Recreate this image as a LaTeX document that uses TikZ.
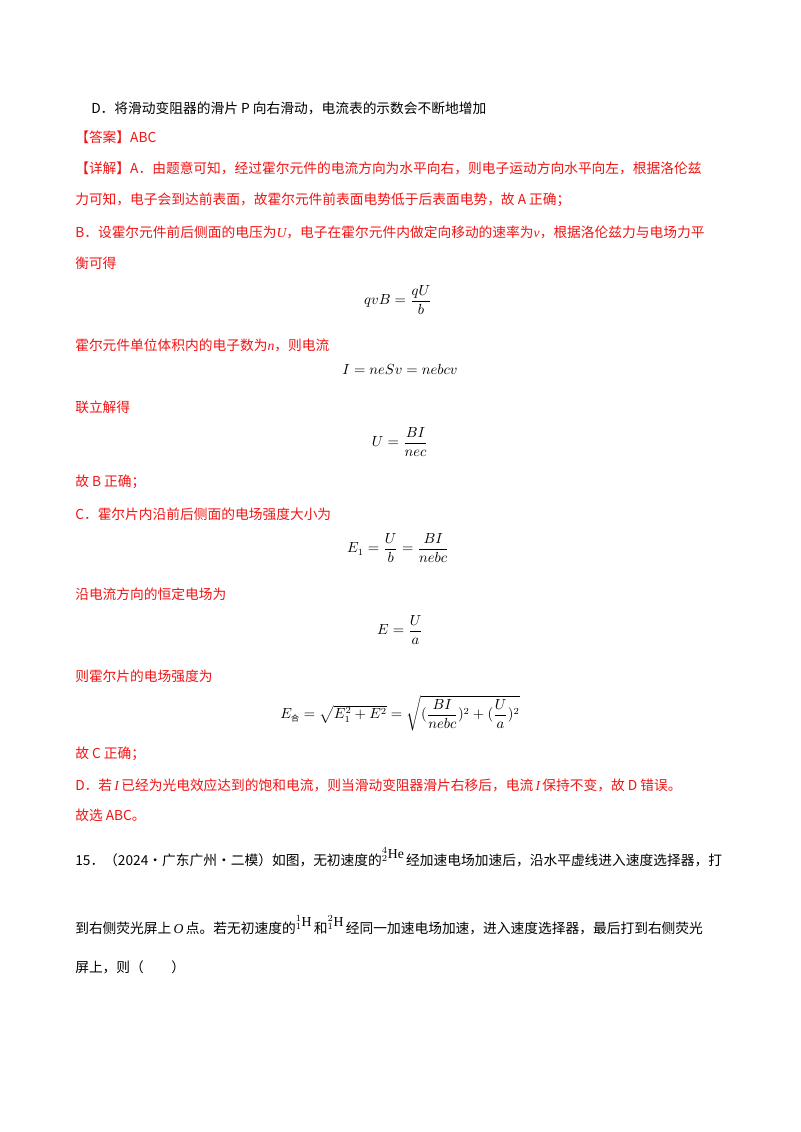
\documentclass[tikz,border=0pt]{standalone}
\usepackage{amsmath}
\usepackage{fontspec}
\setmainfont{Noto Sans CJK SC}
\newfontfamily\tmr{Liberation Serif}
\definecolor{ans}{RGB}{240,20,20}
\newcommand{\mi}[1]{{\tmr\itshape #1}}
\begin{document}
\begin{tikzpicture}[x=0.75pt,y=-0.75pt,
  txt/.style={anchor=west,inner sep=0,font=\fontsize{10.3pt}{12pt}\selectfont},
  red/.style={txt,text=ans},
  eq/.style={inner sep=0,font=\fontsize{10.5pt}{12pt}\selectfont}]
\useasboundingbox (0,0) rectangle (800,1132);
\node[txt] (d0) at (91,108) {D．将滑动变阻器的滑片 P 向右滑动，电流表的示数会不断地增加};
\node[red] (ans) at (75,137) {【答案】ABC};
\node[red] (x1) at (75,168) {【详解】A．由题意可知，经过霍尔元件的电流方向为水平向右，则电子运动方向水平向左，根据洛伦兹};
\node[red] (x2) at (75,200) {力可知，电子会到达前表面，故霍尔元件前表面电势低于后表面电势，故 A 正确；};
\node[red] (x3) at (75,232) {B．设霍尔元件前后侧面的电压为\mi{U}，电子在霍尔元件内做定向移动的速率为\mi{v}，根据洛伦兹力与电场力平};
\node[red] (x4) at (75,263) {衡可得};
\node[eq] (e1) at (398,300) {$qvB=\dfrac{qU}{b}$};
\node[red] (x5) at (75,345) {霍尔元件单位体积内的电子数为\mi{n}，则电流};
\node[eq] (e2) at (400,369) {$I=neSv=nebcv$};
\node[red] (x6) at (75,407) {联立解得};
\node[eq] (e3) at (400,442) {$U=\dfrac{BI}{nec}$};
\node[red] (x7) at (75,482) {故 B 正确；};
\node[red] (x8) at (75,514) {C．霍尔片内沿前后侧面的电场强度大小为};
\node[eq] (e4) at (398,548) {$E_1=\dfrac{U}{b}=\dfrac{BI}{nebc}$};
\node[red] (x9) at (75,594) {沿电流方向的恒定电场为};
\node[eq] (e5) at (400,630) {$E=\dfrac{U}{a}$};
\node[red] (x10) at (75,676) {则霍尔片的电场强度为};
\node[eq] (e6) at (400,713) {$E_{\text{\fontsize{6pt}{6pt}\selectfont 合}}=\sqrt{E_1^2+E^2}=\sqrt{(\dfrac{BI}{nebc})^2+(\dfrac{U}{a})^2}$};
\node[red] (x11) at (75,754) {故 C 正确；};
\node[red] (x12) at (75,785) {D．若\,\mi{I}\,已经为光电效应达到的饱和电流，则当滑动变阻器滑片右移后，电流\,\mi{I}\,保持不变，故 D 错误。};
\node[red] (x13) at (75,815) {故选 ABC。};
\node[txt] (q1) at (75,857) {15．（2024·广东广州·二模）如图，无初速度的\raisebox{5pt}{$^{4}_{2}$\tmr He}\,经加速电场加速后，沿水平虚线进入速度选择器，打};
\node[txt] (q2) at (75,925) {到右侧荧光屏上\,\mi{O}\,点。若无初速度的\raisebox{5pt}{$^{1}_{1}$\tmr H}\,和\raisebox{5pt}{$^{2}_{1}$\tmr H}\,经同一加速电场加速，进入速度选择器，最后打到右侧荧光};
\node[txt] (q3) at (75,967) {屏上，则（\qquad）};
\end{tikzpicture}
\end{document}
